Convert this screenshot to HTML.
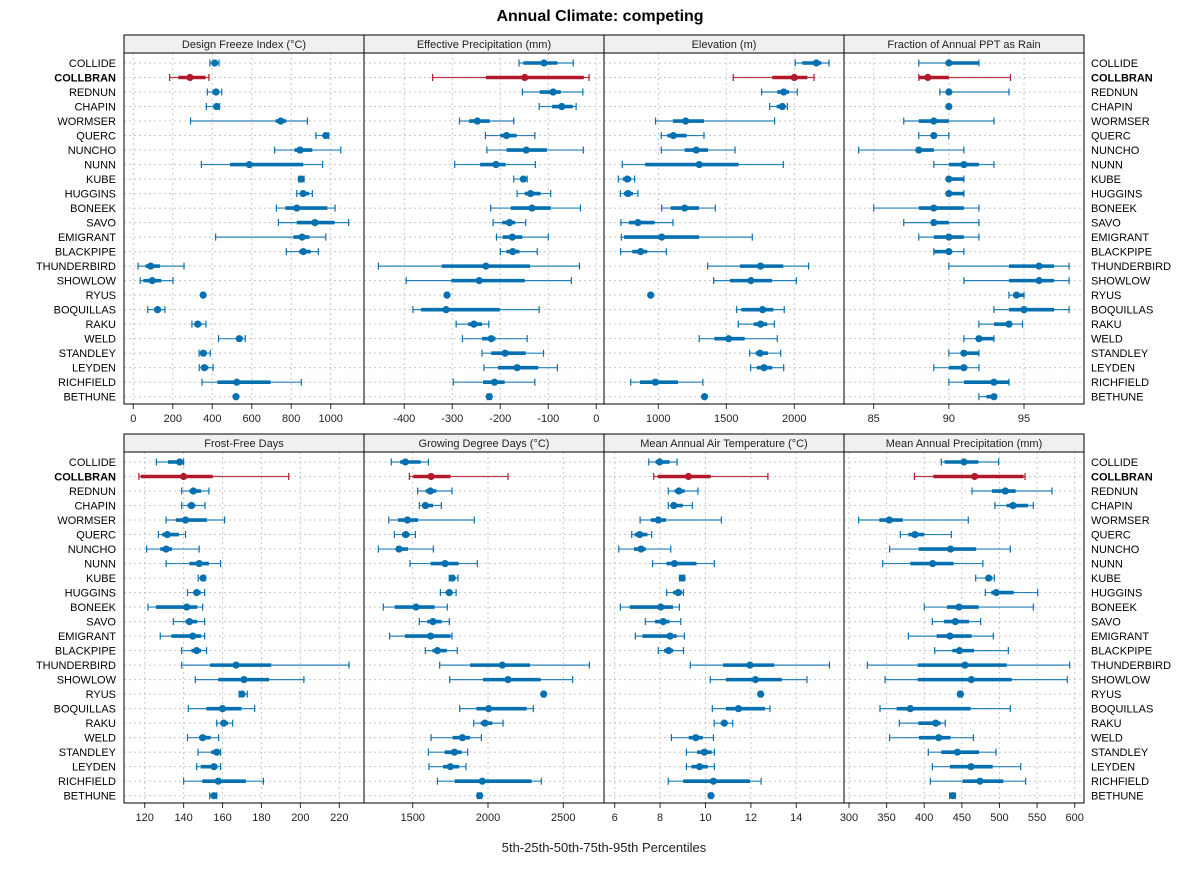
<!DOCTYPE html>
<html><head><meta charset="utf-8"><style>
body{margin:0;background:#fff;}
svg text{font-family:"Liberation Sans",sans-serif;}
</style></head><body>
<svg id="chart" width="1200" height="875" viewBox="0 0 1200 875" xmlns="http://www.w3.org/2000/svg">
<text x="600" y="21" text-anchor="middle" font-size="16" font-weight="bold" fill="#000">Annual Climate: competing</text>
<text x="604" y="852" text-anchor="middle" font-size="13" fill="#222">5th-25th-50th-75th-95th Percentiles</text>
</svg>
<script>
const sites = ["COLLIDE","COLLBRAN","REDNUN","CHAPIN","WORMSER","QUERC","NUNCHO","NUNN","KUBE","HUGGINS","BONEEK","SAVO","EMIGRANT","BLACKPIPE","THUNDERBIRD","SHOWLOW","RYUS","BOQUILLAS","RAKU","WELD","STANDLEY","LEYDEN","RICHFIELD","BETHUNE"];
const highlightSite = "COLLBRAN";
const panelTitles = ["Design Freeze Index (°C)","Effective Precipitation (mm)","Elevation (m)","Fraction of Annual PPT as Rain","Frost-Free Days","Growing Degree Days (°C)","Mean Annual Air Temperature (°C)","Mean Annual Precipitation (mm)"];
const freezeTicks = [0,200,400,600,800,1000];
const pptTicks = [-400,-300,-200,-100,0];
const elevTicks = [1000,1500,2000];
const rainTicks = [85,90,95];
const ffdTicks = [120,140,160,180,200,220];
const gddTicks = [1500,2000,2500];
const maatTicks = [6,8,10,12,14];
const mapTicks = [300,350,400,450,500,550,600];
const freezeData = [[388,400,412,425,434],[184,228,287,366,383],[375,400,419,431,448],[370,405,422,431,437],[290,721,747,775,882],[925,960,975,985,990],[716,817,845,907,1051],[345,490,588,861,959],[838,845,850,858,865],[828,848,860,890,907],[725,770,828,983,1022],[735,828,920,1020,1091],[417,811,855,892,975],[775,840,861,899,937],[24,62,88,135,257],[35,51,96,142,201],[350,352,354,356,358],[73,105,123,135,160],[297,311,326,345,368],[432,522,537,552,567],[333,339,355,366,390],[334,348,360,380,404],[348,426,524,696,851],[517,518,520,521,523]];
const pptData = [[-161,-152,-109,-81,-48],[-341,-230,-149,-26,-15],[-154,-118,-90,-74,-28],[-119,-92,-72,-49,-42],[-285,-265,-248,-222,-172],[-231,-200,-187,-166,-128],[-228,-187,-146,-103,-27],[-295,-242,-209,-189,-127],[-172,-158,-152,-147,-144],[-165,-149,-137,-116,-95],[-220,-178,-134,-95,-33],[-215,-196,-181,-169,-147],[-208,-195,-175,-154,-100],[-200,-187,-174,-160,-123],[-454,-322,-230,-138,-35],[-396,-302,-244,-149,-52],[-313,-312,-311,-310,-309],[-382,-365,-313,-201,-119],[-292,-267,-255,-238,-224],[-279,-238,-219,-210,-144],[-238,-219,-190,-147,-110],[-234,-205,-165,-121,-81],[-298,-236,-212,-191,-128],[-227,-226,-223,-221,-219]];
const elevData = [[2007,2059,2162,2199,2255],[1551,1838,2000,2096,2145],[1760,1875,1922,1961,2022],[1819,1870,1912,1926,1949],[980,1108,1201,1336,1855],[1022,1066,1110,1208,1336],[1022,1194,1279,1365,1564],[735,904,1301,1591,1919],[706,740,772,801,826],[721,748,777,814,850],[1025,1091,1194,1299,1419],[725,784,850,973,1108],[728,748,1025,1299,1691],[723,809,870,919,1059],[1363,1600,1752,1919,2105],[1407,1527,1681,1836,2015],[940,942,944,946,948],[1576,1610,1767,1846,1926],[1588,1701,1752,1801,1853],[1301,1412,1517,1635,1875],[1672,1716,1748,1806,1900],[1679,1725,1777,1838,1922],[797,865,978,1145,1328],[1336,1338,1340,1342,1344]];
const rainData = [[88,90,90,92,92],[88,88,88.6,90,94.1],[89.4,90,90,90,94],[90,90,90,90,90],[87,88,89,90,93],[88,89,89,89,90],[84,88,88,89,91],[89,90,91,92,93],[90,90,90,91,91],[90,90,90,91,91],[85,88,89,91,92],[87,89,89,90,92],[88,89,90,91,92],[89,89,90,90,91],[90,94,96,97,98],[91,94,96,97,98],[94,94.3,94.5,95,95],[93,94,95,97,98],[92,93,94,94,94.9],[91,92,92,93,93],[90,91,91,92,92],[89,90,91,91,92],[90,91,93,94,94],[92,92.5,93,93,93]];
const ffdData = [[126,132,138,139,140],[117,118,140,155,194],[139,143,145,149,153],[139,142,144,146,151],[131,136,141,152,161],[127,129,131.6,137.6,141],[121,128,131,134,148],[131,143,148,153,159],[147.5,149,150,150.5,151],[142,145.3,146.7,148.8,150.8],[121.7,125.8,141.6,147,149.8],[134.7,141,143,147,150.8],[128,133.7,144.7,149,150.8],[139,144,146.7,149,151.8],[139,153.6,167,185,225],[146,157.8,171,183.9,201.8],[168.5,169.3,170,171,172.7],[142.4,151.7,160,169.7,176.5],[157,159,160.6,162.8,165.2],[142,148,149.8,153.9,158],[147.4,154.2,157,157.8,159],[146.7,148.8,155.6,157.3,159],[140,149.6,157.8,172,181],[153.4,154.2,155.6,156.1,157]];
const gddData = [[1358,1416,1451,1553,1604],[1478,1504,1622,1752,2133],[1533,1586,1617,1657,1761],[1544,1564,1584,1635,1690],[1341,1403,1465,1535,1909],[1378,1429,1454,1480,1518],[1272,1389,1409,1469,1637],[1482,1619,1715,1805,1929],[1743,1752,1763,1781,1801],[1684,1719,1743,1763,1788],[1305,1381,1522,1646,1730],[1544,1597,1635,1692,1743],[1347,1449,1619,1752,1761],[1584,1631,1664,1726,1796],[1679,1881,2095,2279,2673],[1746,1967,2133,2350,2562],[2362,2366,2370,2374,2378],[1812,1923,2004,2257,2301],[1905,1951,1980,2029,2100],[1622,1765,1830,1881,1956],[1604,1712,1777,1825,1865],[1608,1701,1750,1808,1854],[1664,1779,1962,2290,2354],[1929,1936,1945,1951,1956]];
const maatData = [[7.5,7.8,7.98,8.42,8.75],[7.72,7.9,9.25,10.23,12.75],[8.36,8.64,8.83,9.08,9.67],[8.36,8.47,8.6,9.0,9.42],[7.12,7.59,7.92,8.26,10.7],[6.75,6.88,7.1,7.44,7.63],[6.18,6.85,7.16,7.37,8.47],[7.67,8.28,8.63,9.6,10.39],[8.86,8.91,8.97,9.03,9.08],[8.29,8.57,8.8,8.97,9.03],[6.25,6.66,8.03,8.57,8.85],[7.35,7.78,8.14,8.41,8.91],[6.91,7.22,8.44,8.73,9.07],[7.92,8.17,8.38,8.58,9.03],[9.33,10.77,11.96,13.03,15.46],[10.21,10.9,12.2,13.36,14.47],[12.37,12.4,12.43,12.46,12.49],[10.3,10.9,11.45,12.62,12.84],[10.38,10.67,10.83,10.96,11.2],[8.5,9.26,9.57,9.88,10.35],[9.16,9.63,9.95,10.27,10.39],[9.16,9.38,9.74,10.1,10.39],[8.36,9.02,10.35,11.96,12.45],[10.18,10.21,10.24,10.27,10.3]];
const mapData = [[422.7,427,452.9,471.9,498.9],[387,412,467,532,534],[463.5,490,507.8,521.5,569.8],[494,509.6,518,538,545],[312.8,340.3,353.6,371.3,458.6],[368.2,378.9,387.7,400,436],[354,392.6,435,469,514.4],[344.8,381.5,411.2,439,478],[468.4,481.7,485.6,490.5,493.2],[481.2,489.2,495.8,518.9,550.8],[400,430.3,446.2,472.4,545],[410.8,426.3,441.3,459.5,475],[378.9,416.5,434.2,463,491.8],[413.9,437.4,446.7,466.2,511.8],[324.4,391.3,454.2,509.6,593.3],[347.9,391.3,462.6,516.2,590.2],[445.3,446.7,448,449.3,450.6],[341.2,363.4,381.5,461.7,514.4],[366.9,392.2,415.2,421.8,428],[354,393,419.2,435,465.3],[405.4,422.7,444,472.8,495.4],[410.8,434.2,462.2,491,528.2],[408.1,451.1,474.1,505.1,534.8],[433.8,435.1,437.8,439.6,441.3]];

const NS = "http://www.w3.org/2000/svg";
const svg = document.getElementById("chart");
function mk(tag, attrs, parent){const e=document.createElementNS(NS,tag);for(const k in attrs)e.setAttribute(k,attrs[k]);(parent||svg).appendChild(e);return e;}
function lin(d0,d1,r0,r1){return v=>r0+(v-d0)*(r1-r0)/(d1-d0);}

const panels = [
 {x0:124,top:35,data:freezeData,ticks:freezeTicks,sc:lin(0,1000,133.3,330.7),name:"design-freeze-index"},
 {x0:364,top:35,data:pptData,ticks:pptTicks,sc:lin(-400,0,404.3,596.3),name:"effective-precipitation"},
 {x0:604,top:35,data:elevData,ticks:elevTicks,sc:lin(1000,2000,658.3,794.3),name:"elevation"},
 {x0:844,top:35,data:rainData,ticks:rainTicks,sc:lin(85,95,873.7,1024),name:"fraction-rain"},
 {x0:124,top:434,data:ffdData,ticks:ffdTicks,sc:lin(120,220,144.7,339.3),name:"frost-free-days"},
 {x0:364,top:434,data:gddData,ticks:gddTicks,sc:lin(1500,2500,412.7,563.3),name:"growing-degree-days"},
 {x0:604,top:434,data:maatData,ticks:maatTicks,sc:lin(6,14,614.7,796.3),name:"mean-annual-air-temp"},
 {x0:844,top:434,data:mapData,ticks:mapTicks,sc:lin(300,600,849,1074.7),name:"mean-annual-precip"}
];
const W=240, stripH=18, plotH=351;

panels.forEach((p,pi)=>{
  const g=mk("g",{});
  
  
  const pTop=p.top+stripH, pBot=pTop+plotH;
  const rowY=lin(0,23,pTop+10,pTop+343.7);
  // strip
  const st=mk("rect",{x:p.x0,y:p.top,width:W,height:stripH,fill:"#f0f0f0",stroke:"#000","stroke-width":1},g);
  
  
  const stt=mk("text",{x:p.x0+W/2,y:p.top+13,"text-anchor":"middle","font-size":11,fill:"#222"},g);
  stt.textContent=panelTitles[pi];
  
  
  // grid
  p.ticks.forEach(t=>{
    const x=p.sc(t);
    mk("line",{x1:x,x2:x,y1:pTop,y2:pBot,stroke:"#c8c8c8","stroke-dasharray":"2,3","stroke-width":1},g);
    mk("line",{x1:x,x2:x,y1:pBot,y2:pBot+5,stroke:"#333"},g);
    const tl=mk("text",{x:x,y:pBot+18,"text-anchor":"middle","font-size":11,fill:"#222"},g);
    tl.textContent=t;
    
    
  });
  sites.forEach((s,i)=>{
    const y=rowY(i);
    mk("line",{x1:p.x0,x2:p.x0+W,y1:y,y2:y,stroke:"#c8c8c8","stroke-dasharray":"2,3","stroke-width":1},g);
  });
  // marks
  p.data.forEach((d,i)=>{
    const y=rowY(i);
    const col = sites[i]===highlightSite ? "#b2182b" : "#0570b0";
    const mg=mk("g",{},g);
    
    
    const x5=p.sc(d[0]),x25=p.sc(d[1]),x50=p.sc(d[2]),x75=p.sc(d[3]),x95=p.sc(d[4]);
    mk("line",{x1:x5,x2:x95,y1:y,y2:y,stroke:col,"stroke-width":1.2,"stroke-opacity":0.85},mg);
    mk("line",{x1:x5,x2:x5,y1:y-3.5,y2:y+3.5,stroke:col,"stroke-width":1.2},mg);
    mk("line",{x1:x95,x2:x95,y1:y-3.5,y2:y+3.5,stroke:col,"stroke-width":1.2},mg);
    mk("line",{x1:x25,x2:x75,y1:y,y2:y,stroke:col,"stroke-width":3.6},mg);
    mk("circle",{cx:x50,cy:y,r:3.6,fill:col},mg);
  });
  // border
  mk("rect",{x:p.x0,y:pTop,width:W,height:plotH,fill:"none",stroke:"#000","stroke-width":1},g);
  // site labels
  if(pi===0||pi===4||pi===3||pi===7){
    sites.forEach((s,i)=>{
      const left = (pi===0||pi===4);
      const t=mk("text",{x:left?116:1091,y:rowY(i)+4,"text-anchor":left?"end":"start","font-size":11,fill:"#000","font-weight":s===highlightSite?"bold":"normal"},svg);
      t.textContent=s;
      
      
    });
  }
});
</script>
</body></html>
